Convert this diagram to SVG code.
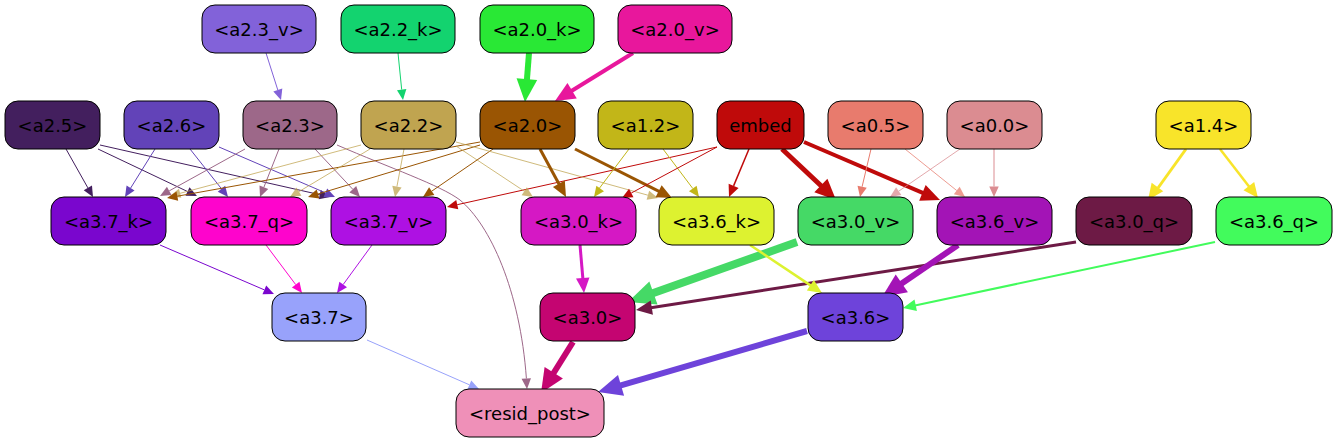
<svg xmlns="http://www.w3.org/2000/svg" xmlns:xlink="http://www.w3.org/1999/xlink" width="1337" height="443" viewBox="0 0 1337 443">
<style>
.node rect{stroke:#000;stroke-width:1}
.node text{font-family:"DejaVu Sans","Liberation Sans",sans-serif;font-size:18px;text-anchor:middle;fill:#000}
.ln{fill:none;stroke:currentColor;stroke-width:1}
.ah{fill:currentColor}
.c-a23v{color:#8262d9}.c-a22k{color:#13d36f}.c-a20k{color:#29e835}.c-a20v{color:#e8179c}
.c-a25{color:#431f5e}.c-a26{color:#6243b8}.c-a23{color:#9d6889}.c-a22{color:#c0a450}
.c-a20{color:#9a5503}.c-a12{color:#c2b618}.c-emb{color:#bf0a0a}.c-a05{color:#e87b6d}
.c-a00{color:#db8c91}.c-a14{color:#f8e42a}.c-a37k{color:#7a06ce}.c-a37q{color:#fe04cc}
.c-a37v{color:#ae11e3}.c-a30k{color:#d518c4}.c-a36k{color:#ddf230}.c-a30v{color:#45d966}
.c-a36v{color:#a314b6}.c-a30q{color:#6d1a45}.c-a36q{color:#42fb5c}.c-a37{color:#98a2fb}
.c-a30{color:#c40571}.c-a36{color:#6e43da}
.lt{opacity:0.75}
</style>
<defs>
<path id="ah" d="M0,0 L-10,-4.5 L-10,4.5 Z"/>
</defs>
<rect width="1337" height="443" fill="#ffffff"/>
<g id="connectors">
<g class="c-a23v"><path class="ln" d="M266,53 L277.8,90"/><use class="ah" href="#ah" transform="translate(281,100) rotate(72.3) scale(1.05)"/></g>
<g class="c-a22k"><path class="ln" d="M398,53 L401.7,89.6"/><use class="ah" href="#ah" transform="translate(403,100) rotate(82.7) scale(1.05)"/></g>
<g class="c-a20k"><path class="ln" style="stroke-width:6" d="M529,53 L526.9,80"/><use class="ah" href="#ah" transform="translate(525,102) rotate(94.7) scale(2.3)"/></g>
<g class="c-a20v"><path class="ln" style="stroke-width:4" d="M633,53 L571,91.3"/><use class="ah" href="#ah" transform="translate(555,101) rotate(148.9) scale(2)"/></g>

<g class="c-a25"><path class="ln" d="M66,149 L87.9,187.9"/><use class="ah" href="#ah" transform="translate(93,197) rotate(60.6) scale(1.05)"/></g>
<g class="c-a25"><path class="ln" d="M98,149 L187.5,191.5"/><use class="ah" href="#ah" transform="translate(197,196) rotate(25.4) scale(1.05)"/></g>
<g class="c-a25"><path class="ln" d="M100,145 L319.8,194.7"/><use class="ah" href="#ah" transform="translate(330,197) rotate(12.7) scale(1.05)"/></g>
<g class="c-a26"><path class="ln" d="M155,149 L130.6,188.1"/><use class="ah" href="#ah" transform="translate(125,197) rotate(122) scale(1.05)"/></g>
<g class="c-a26"><path class="ln" d="M190,149 L221.5,188.8"/><use class="ah" href="#ah" transform="translate(228,197) rotate(51.6) scale(1.05)"/></g>
<g class="c-a26"><path class="ln" d="M219,147 L325.4,192.8"/><use class="ah" href="#ah" transform="translate(335,197) rotate(23.3) scale(1.05)"/></g>
<g class="c-a23"><path class="ln" d="M245,149 L169.2,190.9"/><use class="ah" href="#ah" transform="translate(160,196) rotate(151.1) scale(1.05)"/></g>
<g class="c-a23"><path class="ln" d="M279,149 L263.9,187.2"/><use class="ah" href="#ah" transform="translate(260,197) rotate(111.6) scale(1.05)"/></g>
<g class="c-a23"><path class="ln" d="M315,149 L352.8,189.3"/><use class="ah" href="#ah" transform="translate(360,197) rotate(46.8) scale(1.05)"/></g>
<g class="c-a23"><path class="ln" d="M337,145 C390,168 440,185 460,200 C490,225 520,290 526.4,378.5"/><use class="ah" href="#ah" transform="translate(527,389) rotate(86) scale(1.05)"/></g>
<g class="c-a22 lt"><path class="ln" d="M361,145 L180.1,193.3"/><use class="ah" href="#ah" transform="translate(170,196) rotate(165) scale(1.05)"/></g>
<g class="c-a20"><path class="ln" d="M480,142 L177.3,196.2"/><use class="ah" href="#ah" transform="translate(167,198) rotate(169.9) scale(1.05)"/></g>
<g class="c-a22 lt"><path class="ln" d="M370,149 L299,191.6"/><use class="ah" href="#ah" transform="translate(290,197) rotate(149) scale(1.05)"/></g>
<g class="c-a20"><path class="ln" d="M480,145 L318,194"/><use class="ah" href="#ah" transform="translate(308,197) rotate(163.2) scale(1.05)"/></g>
<g class="c-a22 lt"><path class="ln" d="M404,149 L396.9,186.7"/><use class="ah" href="#ah" transform="translate(395,197) rotate(100.6) scale(1.05)"/></g>
<g class="c-a20"><path class="ln" d="M493,149 L431.7,191.2"/><use class="ah" href="#ah" transform="translate(423,197) rotate(146.1) scale(1.05)"/></g>
<g class="c-emb"><path class="ln" d="M717,147 L457.2,204.7"/><use class="ah" href="#ah" transform="translate(447,207) rotate(167.5) scale(1.05)"/></g>
<g class="c-a22 lt"><path class="ln" d="M456,146 L524.3,191.2"/><use class="ah" href="#ah" transform="translate(533,197) rotate(33.5) scale(1.05)"/></g>
<g class="c-a22 lt"><path class="ln" d="M456,142 L647.9,195.2"/><use class="ah" href="#ah" transform="translate(658,198) rotate(15.5) scale(1.05)"/></g>
<g class="c-a20"><path class="ln" style="stroke-width:3" d="M540,149 L559.4,184.7"/><use class="ah" href="#ah" transform="translate(566,197) rotate(61.6) scale(1.5)"/></g>
<g class="c-a20"><path class="ln" style="stroke-width:3" d="M575,149 L659.5,191.6"/><use class="ah" href="#ah" transform="translate(672,198) rotate(26.8) scale(1.5)"/></g>
<g class="c-a12"><path class="ln" d="M629,149 L599.2,188.5"/><use class="ah" href="#ah" transform="translate(594,197) rotate(126.1) scale(1.05)"/></g>
<g class="c-a12"><path class="ln" d="M663,149 L692.8,188.5"/><use class="ah" href="#ah" transform="translate(699,197) rotate(53.9) scale(1.05)"/></g>
<g class="c-emb"><path class="ln" d="M717,147 L631.3,193"/><use class="ah" href="#ah" transform="translate(622,198) rotate(151.8) scale(1.05)"/></g>
<g class="c-emb"><path class="ln" style="stroke-width:1.5" d="M749,149 L733.6,185.9"/><use class="ah" href="#ah" transform="translate(729,197) rotate(112.6) scale(1.2)"/></g>
<g class="c-emb"><path class="ln" style="stroke-width:5" d="M782,149 L821.6,186.2"/><use class="ah" href="#ah" transform="translate(836,200) rotate(43.9) scale(2.1)"/></g>
<g class="c-emb"><path class="ln" style="stroke-width:4" d="M804,142 L923.3,193.2"/><use class="ah" href="#ah" transform="translate(940,200) rotate(22.3) scale(1.9)"/></g>
<g class="c-a05"><path class="ln" d="M871,149 L862.1,186.7"/><use class="ah" href="#ah" transform="translate(860,197) rotate(101.8) scale(1.05)"/></g>
<g class="c-a05 lt"><path class="ln" d="M905,149 L956.7,190.5"/><use class="ah" href="#ah" transform="translate(965,197) rotate(38.1) scale(1.05)"/></g>
<g class="c-a00 lt"><path class="ln" d="M960,149 L898.7,191.2"/><use class="ah" href="#ah" transform="translate(890,197) rotate(146.1) scale(1.05)"/></g>
<g class="c-a00"><path class="ln" d="M994,149 L994,186.5"/><use class="ah" href="#ah" transform="translate(994,197) rotate(90) scale(1.05)"/></g>
<g class="c-a14"><path class="ln" style="stroke-width:3" d="M1186,149 L1158,188"/><use class="ah" href="#ah" transform="translate(1148,200) rotate(126.2) scale(1.6)"/></g>
<g class="c-a14"><path class="ln" style="stroke-width:2.5" d="M1220,149 L1249.4,187"/><use class="ah" href="#ah" transform="translate(1258,198) rotate(52.4) scale(1.5)"/></g>

<g class="c-a37k"><path class="ln" d="M160,245 L264.4,289.9"/><use class="ah" href="#ah" transform="translate(274,294) rotate(23.3) scale(1.05)"/></g>
<g class="c-a37q"><path class="ln" d="M266,245 L295.7,284.6"/><use class="ah" href="#ah" transform="translate(302,293) rotate(53.1) scale(1.05)"/></g>
<g class="c-a37v"><path class="ln" d="M372,245 L343.2,284.5"/><use class="ah" href="#ah" transform="translate(337,293) rotate(126.1) scale(1.05)"/></g>
<g class="c-a30k"><path class="ln" style="stroke-width:3" d="M580,245 L582.9,279"/><use class="ah" href="#ah" transform="translate(584,293) rotate(85.2) scale(1.5)"/></g>
<g class="c-a30v"><path class="ln" style="stroke-width:8" d="M797,242 L652,293.5"/><use class="ah" href="#ah" transform="translate(628,302) rotate(160.4) scale(2.7)"/></g>
<g class="c-a30q"><path class="ln" style="stroke-width:3" d="M1076,242 L650.8,307.7"/><use class="ah" href="#ah" transform="translate(636,310) rotate(171.2) scale(1.6)"/></g>
<g class="c-a36k"><path class="ln" style="stroke-width:2.5" d="M750,245 L810.9,285.6"/><use class="ah" href="#ah" transform="translate(822,293) rotate(33.7) scale(1.4)"/></g>
<g class="c-a36v"><path class="ln" style="stroke-width:6" d="M958,245 L900.6,284.2"/><use class="ah" href="#ah" transform="translate(882,297) rotate(145.6) scale(2.4)"/></g>
<g class="c-a36q"><path class="ln" style="stroke-width:2" d="M1215,242 L915,305.4"/><use class="ah" href="#ah" transform="translate(903,308) rotate(168.1) scale(1.3)"/></g>

<g class="c-a37"><path class="ln" d="M367,340 L469.4,384.8"/><use class="ah" href="#ah" transform="translate(479,389) rotate(23.6) scale(1.05)"/></g>
<g class="c-a30"><path class="ln" style="stroke-width:6" d="M573,342 L553,374"/><use class="ah" href="#ah" transform="translate(541,393) rotate(122.1) scale(2.4)"/></g>
<g class="c-a36"><path class="ln" style="stroke-width:6" d="M807,331 L620,385.6"/><use class="ah" href="#ah" transform="translate(598,392) rotate(163.7) scale(2.4)"/></g>
</g>

<g id="n-a2.3_v" class="node"><rect x="202" y="5" width="114" height="48" rx="13" fill="#8262d9"/><text x="259" y="35.5">&lt;a2.3_v&gt;</text></g>
<g id="n-a2.2_k" class="node"><rect x="341" y="5" width="114" height="48" rx="13" fill="#13d36f"/><text x="398" y="35.5">&lt;a2.2_k&gt;</text></g>
<g id="n-a2.0_k" class="node"><rect x="480" y="5" width="114" height="48" rx="13" fill="#29e835"/><text x="537" y="35.5">&lt;a2.0_k&gt;</text></g>
<g id="n-a2.0_v" class="node"><rect x="618" y="5" width="114" height="48" rx="13" fill="#e8179c"/><text x="675" y="35.5">&lt;a2.0_v&gt;</text></g>

<g id="n-a2.5" class="node"><rect x="5" y="101" width="95" height="48" rx="13" fill="#431f5e"/><text x="52.5" y="131.5">&lt;a2.5&gt;</text></g>
<g id="n-a2.6" class="node"><rect x="124" y="101" width="95" height="48" rx="13" fill="#6243b8"/><text x="171.5" y="131.5">&lt;a2.6&gt;</text></g>
<g id="n-a2.3" class="node"><rect x="243" y="101" width="94" height="48" rx="13" fill="#9d6889"/><text x="290" y="131.5">&lt;a2.3&gt;</text></g>
<g id="n-a2.2" class="node"><rect x="361" y="101" width="95" height="48" rx="13" fill="#c0a450"/><text x="408.5" y="131.5">&lt;a2.2&gt;</text></g>
<g id="n-a2.0" class="node"><rect x="480" y="101" width="95" height="48" rx="13" fill="#9a5503"/><text x="527.5" y="131.5">&lt;a2.0&gt;</text></g>
<g id="n-a1.2" class="node"><rect x="598" y="101" width="95" height="48" rx="13" fill="#c2b618"/><text x="645.5" y="131.5">&lt;a1.2&gt;</text></g>
<g id="n-embed" class="node"><rect x="717" y="101" width="87" height="48" rx="13" fill="#bf0a0a"/><text x="760.5" y="131.5">embed</text></g>
<g id="n-a0.5" class="node"><rect x="828" y="101" width="95" height="48" rx="13" fill="#e87b6d"/><text x="875.5" y="131.5">&lt;a0.5&gt;</text></g>
<g id="n-a0.0" class="node"><rect x="947" y="101" width="95" height="48" rx="13" fill="#db8c91"/><text x="994.5" y="131.5">&lt;a0.0&gt;</text></g>
<g id="n-a1.4" class="node"><rect x="1156" y="101" width="95" height="48" rx="13" fill="#f8e42a"/><text x="1203.5" y="131.5">&lt;a1.4&gt;</text></g>

<g id="n-a3.7_k" class="node"><rect x="51" y="197" width="115" height="48" rx="13" fill="#7a06ce"/><text x="108.5" y="227.5">&lt;a3.7_k&gt;</text></g>
<g id="n-a3.7_q" class="node"><rect x="191" y="197" width="116" height="48" rx="13" fill="#fe04cc"/><text x="249" y="227.5">&lt;a3.7_q&gt;</text></g>
<g id="n-a3.7_v" class="node"><rect x="331" y="197" width="115" height="48" rx="13" fill="#ae11e3"/><text x="388.5" y="227.5">&lt;a3.7_v&gt;</text></g>
<g id="n-a3.0_k" class="node"><rect x="521" y="197" width="115" height="48" rx="13" fill="#d518c4"/><text x="578.5" y="227.5">&lt;a3.0_k&gt;</text></g>
<g id="n-a3.6_k" class="node"><rect x="659" y="197" width="115" height="48" rx="13" fill="#ddf230"/><text x="716.5" y="227.5">&lt;a3.6_k&gt;</text></g>
<g id="n-a3.0_v" class="node"><rect x="798" y="197" width="115" height="48" rx="13" fill="#45d966"/><text x="855.5" y="227.5">&lt;a3.0_v&gt;</text></g>
<g id="n-a3.6_v" class="node"><rect x="937" y="197" width="115" height="48" rx="13" fill="#a314b6"/><text x="994.5" y="227.5">&lt;a3.6_v&gt;</text></g>
<g id="n-a3.0_q" class="node"><rect x="1076" y="197" width="116" height="48" rx="13" fill="#6d1a45"/><text x="1134" y="227.5">&lt;a3.0_q&gt;</text></g>
<g id="n-a3.6_q" class="node"><rect x="1216" y="197" width="116" height="48" rx="13" fill="#42fb5c"/><text x="1274" y="227.5">&lt;a3.6_q&gt;</text></g>

<g id="n-a3.7" class="node"><rect x="272" y="293" width="94" height="48" rx="13" fill="#98a2fb"/><text x="319" y="323.5">&lt;a3.7&gt;</text></g>
<g id="n-a3.0" class="node"><rect x="540" y="293" width="95" height="48" rx="13" fill="#c40571"/><text x="587.5" y="323.5">&lt;a3.0&gt;</text></g>
<g id="n-a3.6" class="node"><rect x="808" y="293" width="95" height="48" rx="13" fill="#6e43da"/><text x="855.5" y="323.5">&lt;a3.6&gt;</text></g>

<g id="n-resid_post" class="node"><rect x="456" y="389" width="148" height="48" rx="13" fill="#ef90b8"/><text x="530" y="419.5">&lt;resid_post&gt;</text></g>
</svg>
